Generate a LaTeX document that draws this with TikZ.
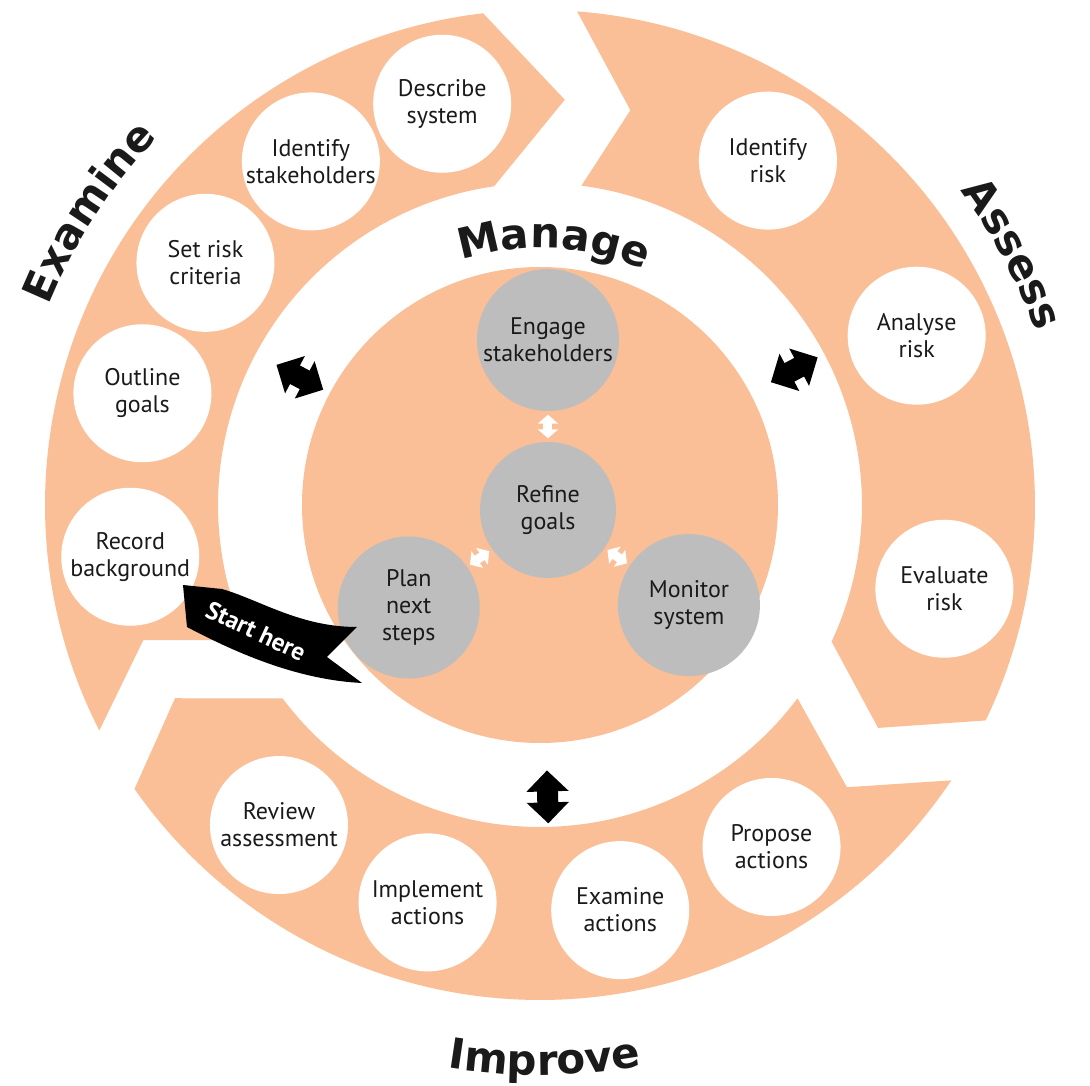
\documentclass[tikz,border=0pt]{standalone}
\usepackage{fontspec}
\setmainfont{PT Sans}
\newfontfamily\headfont{DejaVu Sans}
\usetikzlibrary{arrows.meta,calc,decorations.text}
\definecolor{peach}{HTML}{FABF96}
\definecolor{coregray}{HTML}{BDBDBD}
\definecolor{ink}{HTML}{1A1A1A}
\newcommand{\headsize}{\headfont\bfseries\fontsize{42}{42}\selectfont}
\newcommand{\stepsize}{\fontsize{24}{27}\selectfont}

\begin{document}
\begin{tikzpicture}[x=1pt,y=1pt,
  stepnode/.style={circle,fill=white,minimum size=138pt,inner sep=0pt,
    align=center,font=\stepsize,text=ink},
  corenode/.style={stepnode,fill=coregray,minimum size=142pt},
  bigarrow/.style={black,line width=21pt,
    {Triangle[width=41pt,length=21pt]}-{Triangle[width=41pt,length=21pt]}},
  smallarrow/.style={white,line width=9pt,
    {Triangle[width=20pt,length=9pt]}-{Triangle[width=20pt,length=9pt]},
    shorten <=3.5pt,shorten >=3.5pt},
  heading/.style={decorate,decoration={text along path,text align=center,
    text color=ink,text={|\headsize|#1}}}]

  \useasboundingbox (-540,-581) rectangle (550,505);
  \fill[white] (-540,-581) rectangle (550,505);

  % three ring segments: outer arc, tip, inner arc back, notch
  \fill[peach] (207.1:495pt) arc[start angle=207.1,end angle=96.6,radius=495pt]
    -- (86.5:406pt) -- (98.2:322pt) arc[start angle=98.2,end angle=204.8,radius=322pt]
    -- (198.8:419pt) -- cycle;
  \fill[peach] (85.7:495pt) arc[start angle=85.7,end angle=-25.8,radius=495pt]
    -- (-33.4:405pt) -- (-25.1:322pt) arc[start angle=-25.1,end angle=82.6,radius=322pt]
    -- (77.1:405pt) -- cycle;
  \fill[peach] (-33.8:495pt) arc[start angle=-33.8,end angle=-145,radius=495pt]
    -- (-152.1:413pt) -- (-143.1:322pt) arc[start angle=-143.1,end angle=-36.9,radius=322pt]
    -- (-42.6:417pt) -- cycle;

  % centre disc
  \fill[peach] (0,0) circle[radius=238pt];

  \newcommand{\stepcircle}[3]{\node[stepnode] (#1) at (#2:413pt) {#3};}

  \stepcircle{describe}{103.7}{Describe\\system}
  \stepcircle{idstake}{123.7}{Identify\\stakeholders}
  \stepcircle{criteria}{144.1}{Set risk\\criteria}
  \stepcircle{outline}{164.3}{Outline\\goals}
  \stepcircle{record}{187.2}{Record\\background}
  \stepcircle{idrisk}{56.5}{Identify\\risk}
  \stepcircle{analyse}{24.2}{Analyse\\risk}
  \stepcircle{evaluate}{-11.7}{Evaluate\\risk}
  \stepcircle{propose}{-55.9}{Propose\\actions}
  \stepcircle{examact}{-78.8}{Examine\\actions}
  \stepcircle{implement}{-105.8}{Implement\\actions}
  \stepcircle{review}{-129.2}{Review\\assessment}

  \node[corenode,minimum size=136pt] (refine) at (8,-5) {Refine\\goals};
  \node[corenode] (engage) at ($(refine)+(90:170)$) {Engage\\stakeholders};
  \node[corenode] (plan) at ($(refine)+(215:170)$) {Plan\\next\\steps};
  \node[corenode] (monitor) at ($(refine)+(326:170)$) {Monitor\\system};

  \draw[smallarrow] (engage) -- (refine);
  \draw[smallarrow] (refine) -- (plan);
  \draw[smallarrow] (refine) -- (monitor);

  % links between the ring and the centre
  \foreach \side/\ang/\rad in {exa/152/272,ass/28/288,imp/-88.5/292}{
    \pgfmathsetmacro{\rout}{\rad+26.5}
    \pgfmathsetmacro{\rin}{\rad-26.5}
    \coordinate (\side-out) at (\ang:\rout pt);
    \coordinate (\side-in) at (\ang:\rin pt);
    \draw[bigarrow] (\side-out) -- (\side-in);
  }

  % start banner
  \fill[black] (-357,-80) -- (-318,-84)
    .. controls (-280,-95) and (-240,-122) .. (-183,-122)
    -- (-213,-152) -- (-178,-178)
    .. controls (-240,-175) and (-300,-150) .. (-353,-122) -- cycle;
  \node[rotate=-25,text=white,font=\bfseries\fontsize{25}{25}\selectfont]
    (start) at (-284,-126) {Start here};

  \path[heading=Manage] (117:257pt) arc[start angle=117,end angle=57,radius=257pt];
  \path[heading=Examine] (167:530pt) arc[start angle=167,end angle=127,radius=530pt];
  \path[heading=Assess] (48:525pt) arc[start angle=48,end angle=8,radius=525pt];
  \path[heading=Improve] (-110:570pt) arc[start angle=-110,end angle=-69,radius=570pt];
\end{tikzpicture}
\end{document}
